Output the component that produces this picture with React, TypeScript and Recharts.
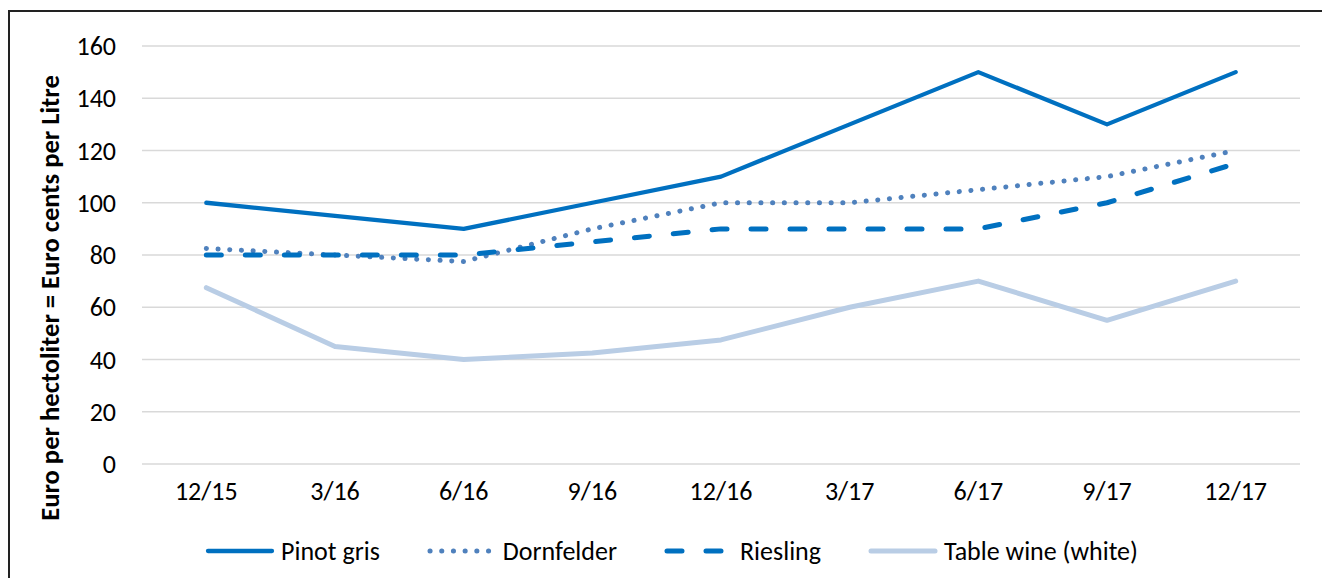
import React from "react"
import { LineChart, Line, XAxis, YAxis, CartesianGrid, Legend, Label } from "recharts"

const periods = ["12/15", "3/16", "6/16", "9/16", "12/16", "3/17", "6/17", "9/17", "12/17"]
const pinotGris = [100, 95, 90, 100, 110, 130, 150, 130, 150]
const dornfelder = [82.5, 80, 77.5, 90, 100, 100, 105, 110, 120]
const riesling = [80, 80, 80, 85, 90, 90, 90, 100, 115]
const tableWine = [67.5, 45, 40, 42.5, 47.5, 60, 70, 55, 70]
const yTicks = [0, 20, 40, 60, 80, 100, 120, 140, 160]
const boundaryTicks = [-0.5, 0.5, 1.5, 2.5, 3.5, 4.5, 5.5, 6.5, 7.5, 8.5]

const data = periods.map((period, idx) => ({
  idx,
  period,
  pinotGris: pinotGris[idx],
  dornfelder: dornfelder[idx],
  riesling: riesling[idx],
  tableWine: tableWine[idx],
}))

const FONT = "Carlito, Lato, sans-serif"

const series = [
  { key: "pinotGris", name: "Pinot gris", color: "#0070c0", width: 4.3, dash: undefined },
  { key: "dornfelder", name: "Dornfelder", color: "#4f81bd", width: 5, dash: "0.1 11.6" },
  { key: "riesling", name: "Riesling", color: "#0070c0", width: 5, dash: "15 24" },
  { key: "tableWine", name: "Table wine (white)", color: "#b9cde5", width: 5, dash: undefined },
]

function WineLegend() {
  return (
    <div style={{ display: "flex", justifyContent: "center", alignItems: "center", height: 30, paddingLeft: 78, boxSizing: "border-box", fontFamily: FONT, fontSize: 26, color: "#000" }}>
      {series.map((s) => (
        <div key={s.key} style={{ display: "flex", alignItems: "center", marginRight: 46 }}>
          <svg width={72} height={20}>
            <line x1={4} y1={10} x2={68} y2={10} stroke={s.color} strokeWidth={s.width} strokeDasharray={s.dash} strokeLinecap="round" />
          </svg>
          <span style={{ marginLeft: 5 }}>{s.name}</span>
        </div>
      ))}
    </div>
  )
}

function YTitle(props: any) {
  const { x, y, height } = props.viewBox
  const cx = x + 40
  const cy = y + height / 2 + 43
  return (
    <text x={cx} y={cy} transform={`rotate(-90, ${cx}, ${cy})`} textAnchor="middle" dominantBaseline="central" fontFamily={FONT} fontWeight="bold" fontSize={26.6} fill="#000">
      Euro per hectoliter = Euro cents per Litre
    </text>
  )
}

export default function App() {
  return (
    <div>
      <style>{`body{overflow:hidden}`}</style>
      <div style={{ marginTop: 2, borderTop: "2px solid #222", borderLeft: "2px solid #222", width: 1320, height: 566 }}>
        <LineChart width={1320} height={566} data={data} margin={{ top: 34, right: 30, bottom: 12, left: 0 }}>
          <CartesianGrid horizontal vertical={false} stroke="#d9d9d9" strokeWidth={1.5} xAxisId="lab" />
          <XAxis
            xAxisId="tk"
            type="number"
            domain={[-0.5, 8.5]}
            ticks={boundaryTicks}
            tickFormatter={() => ""}
            height={0}
            tickSize={7}
            stroke="#868686"
            strokeWidth={1.5}
          />
          <XAxis
            xAxisId="lab"
            dataKey="idx"
            type="number"
            domain={[-0.5, 8.5]}
            ticks={periods.map((_, i) => i)}
            tickFormatter={(i: number) => periods[i]}
            interval={0}
            axisLine={false}
            tickLine={false}
            tickMargin={12}
            height={72}
            tick={{ fontFamily: FONT, fontSize: 26, fill: "#000" }}
          />
          <YAxis
            domain={[0, 160]}
            ticks={yTicks}
            width={132}
            axisLine={false}
            tickLine={false}
            tickMargin={20}
            tick={{ fontFamily: FONT, fontSize: 26, fill: "#000" }}
          >
            <Label content={<YTitle />} />
          </YAxis>
          <Legend verticalAlign="bottom" height={30} content={<WineLegend />} />
          {series.map((s) => (
            <Line
              key={s.key}
              xAxisId="lab"
              type="linear"
              dataKey={s.key}
              name={s.name}
              stroke={s.color}
              strokeWidth={s.width}
              strokeDasharray={s.dash}
              strokeLinecap="round"
              strokeLinejoin="round"
              dot={false}
              activeDot={false}
              isAnimationActive={false}
            />
          ))}
        </LineChart>
      </div>
    </div>
  )
}
